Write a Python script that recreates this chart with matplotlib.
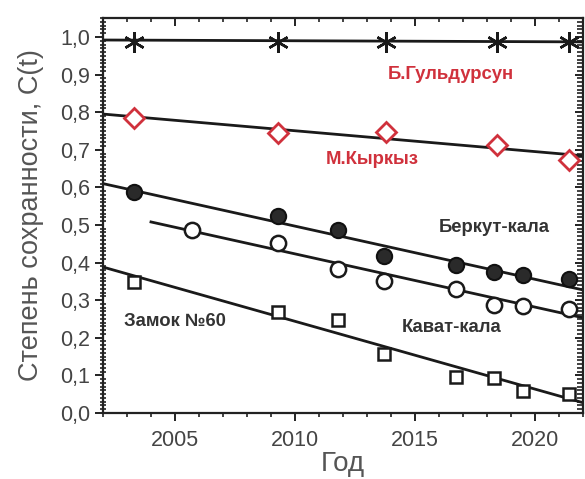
import matplotlib
matplotlib.use("Agg")
import matplotlib.pyplot as plt
from matplotlib.ticker import MultipleLocator, FuncFormatter

plt.rcParams['font.family'] = ['Liberation Sans', 'DejaVu Sans']

# Data
years_g = [2003.3, 2009.3, 2013.8, 2018.4, 2021.4]
guldursun = [0.988, 0.988, 0.988, 0.988, 0.988]
fit_g = ([2002, 2022], [0.992, 0.987])

years_k = [2003.3, 2009.3, 2013.8, 2018.4, 2021.4]
kyrkyz = [0.785, 0.745, 0.747, 0.713, 0.673]
fit_k = ([2002, 2022], [0.795, 0.684])

years_b = [2003.3, 2009.3, 2011.8, 2013.7, 2016.7, 2018.3, 2019.5, 2021.4]
berkut = [0.588, 0.525, 0.487, 0.418, 0.394, 0.375, 0.367, 0.356]
fit_b = ([2002, 2022], [0.610, 0.327])

years_kv = [2005.7, 2009.3, 2011.8, 2013.7, 2016.7, 2018.3, 2019.5, 2021.4]
kavat = [0.487, 0.452, 0.383, 0.351, 0.330, 0.287, 0.285, 0.277]
fit_kv = ([2004.0, 2022], [0.508, 0.253])

years_z = [2003.3, 2009.3, 2011.8, 2013.7, 2016.7, 2018.3, 2019.5, 2021.4]
zamok = [0.348, 0.268, 0.247, 0.157, 0.096, 0.093, 0.059, 0.050]
fit_z = ([2002, 2022], [0.388, 0.027])

labels = ["Б.Гульдурсун", "М.Кыркыз", "Беркут-кала", "Кават-кала", "Замок №60"]
label_x = [2016.5, 2013.2, 2018.3, 2016.5, 2005.0]
label_y = [0.899, 0.673, 0.492, 0.226, 0.242]
label_colors = ['#d0313c', '#d0313c', '#333333', '#333333', '#333333']

red = '#d0313c'

fig = plt.figure(figsize=(5.85, 4.79), dpi=100)
ax = fig.add_axes([0.176, 0.138, 0.821, 0.824])

lw = 2.0
for fx, fy in [fit_g, fit_k, fit_b, fit_kv, fit_z]:
    ax.plot(fx, fy, color='#1a1a1a', lw=lw, zorder=2)

ax.plot(years_g, guldursun, ls='none', marker=(6, 2, 0), ms=15, mew=1.8,
        color='#1a1a1a', zorder=3, clip_on=False)
ax.plot(years_k, kyrkyz, ls='none', marker='D', ms=10, mew=2,
        mfc='white', mec=red, zorder=3, clip_on=False)
ax.plot(years_b, berkut, ls='none', marker='o', ms=11, mew=1.5,
        mfc='#2a2a2a', mec='#111111', zorder=3, clip_on=False)
ax.plot(years_kv, kavat, ls='none', marker='o', ms=11, mew=1.8,
        mfc='white', mec='#1a1a1a', zorder=3, clip_on=False)
ax.plot(years_z, zamok, ls='none', marker='s', ms=9, mew=1.8,
        mfc='white', mec='#1a1a1a', zorder=3, clip_on=False)

for t, x, y, c in zip(labels, label_x, label_y, label_colors):
    ax.text(x, y, t, color=c, fontsize=13.3, fontweight='bold',
            ha='center', va='center', zorder=4)

ax.set_xlim(2002, 2022)
ax.set_ylim(0, 1.05)
ax.xaxis.set_major_locator(MultipleLocator(5))
ax.xaxis.set_minor_locator(MultipleLocator(1))
ax.yaxis.set_major_locator(MultipleLocator(0.1))
ax.yaxis.set_minor_locator(MultipleLocator(0.01))
ax.yaxis.set_major_formatter(FuncFormatter(lambda v, p: f"{v:.1f}".replace('.', ',')))

for s in ax.spines.values():
    s.set_linewidth(1.6)
    s.set_color('#222222')

ax.tick_params(axis='both', which='major', labelsize=15.5, labelcolor='#444444',
               color='#222222', width=1.4, length=6, top=True, right=True)
ax.tick_params(axis='both', which='minor', color='#222222', width=1.2,
               length=3, top=True, right=True)
ax.tick_params(axis='y', which='major', direction='out', pad=3)
ax.tick_params(axis='y', which='minor', direction='inout', length=4)
ax.tick_params(axis='x', which='both', direction='out')
ax.tick_params(axis='x', which='major', pad=6)
ax.tick_params(which='both', labeltop=False, labelright=False)
for tk in ax.xaxis.get_major_ticks() + ax.xaxis.get_minor_ticks():
    tk.tick2line.set_marker(3)  # inward ticks on top spine
for tk in ax.yaxis.get_major_ticks() + ax.yaxis.get_minor_ticks():
    tk.tick2line.set_marker(0)  # inward ticks on right spine

ax.set_xlabel("Год", fontsize=20, color='#555555', labelpad=0)
ax.set_ylabel("Степень сохранности, C(t)", fontsize=19.5, color='#555555', labelpad=12)

fig.savefig("out.png", dpi=100)
